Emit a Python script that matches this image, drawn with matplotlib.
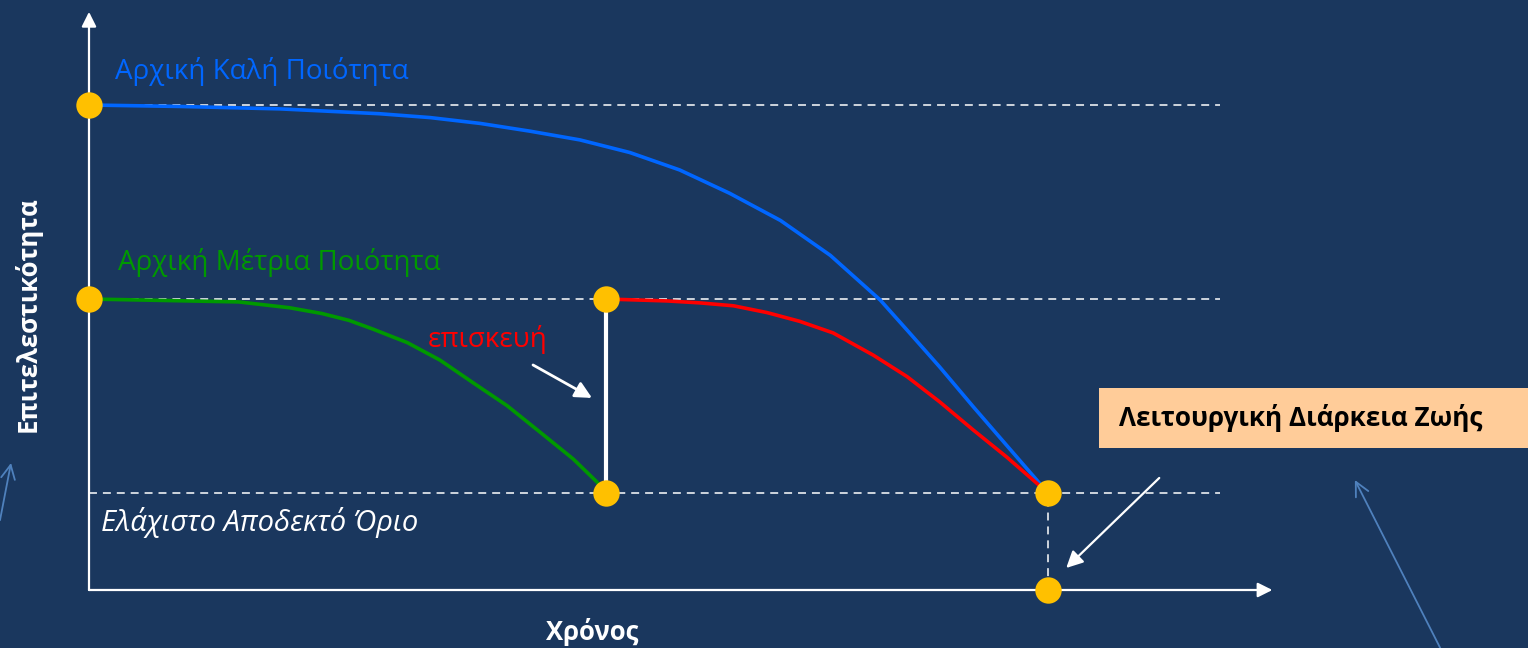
import matplotlib.pyplot as plt
from matplotlib.patches import Rectangle

# Time axis is scaled so that the end of useful life is at t = 10,
# effectiveness levels: minimum = 1, medium = 3, good = 5.
LEVEL_GOOD = 5.0
LEVEL_MEDIUM = 3.0
LEVEL_MIN = 1.0
T_REPAIR = 5.39
T_END = 10.0

good_t = [0.0, 0.95, 1.99, 3.03, 3.56, 4.08, 4.60, 5.12, 5.64, 6.16, 6.68, 7.21, 7.73,
          8.25, 8.53, 8.87, 9.22, 9.57, 10.0]
good_q = [5.0, 4.985, 4.96, 4.91, 4.87, 4.81, 4.73, 4.64, 4.51, 4.33, 4.09, 3.81, 3.45,
          2.99, 2.68, 2.30, 1.89, 1.49, 1.0]

medium_t = [0.0, 1.04, 1.56, 2.09, 2.43, 2.71, 2.96, 3.32, 3.66, 4.00, 4.36, 4.70, 5.05, 5.30, 5.39]
medium_q = [3.0, 2.98, 2.97, 2.91, 2.85, 2.78, 2.69, 2.55, 2.37, 2.14, 1.90, 1.63, 1.35, 1.11, 1.0]

repaired_t = [5.39, 6.03, 6.37, 6.72, 7.07, 7.41, 7.76, 8.18, 8.53, 8.87, 9.22, 9.57, 10.0]
repaired_q = [3.0, 2.98, 2.96, 2.93, 2.86, 2.77, 2.65, 2.42, 2.20, 1.94, 1.65, 1.37, 1.0]

dots_t = [0.0, 0.0, T_REPAIR, T_REPAIR, T_END, T_END]
dots_q = [LEVEL_GOOD, LEVEL_MEDIUM, LEVEL_MEDIUM, LEVEL_MIN, LEVEL_MIN, 0.0]

label_good = "Αρχική Καλή Ποιότητα"
label_medium = "Αρχική Μέτρια Ποιότητα"
label_repair = "επισκευή"
label_min = "Ελάχιστο Αποδεκτό Όριο"
label_life = "Λειτουργική Διάρκεια Ζωής"
xlabel = "Χρόνος"
ylabel = "Επιτελεστικότητα"

BG = "#1a375e"
plt.rcParams["font.family"] = ["Open Sans", "DejaVu Sans"]

fig = plt.figure(figsize=(15.28, 6.48), dpi=100, facecolor=BG)
ax = fig.add_axes([0, 0, 1, 1])
ax.set_facecolor(BG)
ax.set_xlim(-89 / 95.9, (1528 - 89) / 95.9)
ax.set_ylim(-(648 - 590) / 97, 590 / 97)
ax.axis("off")

# reference levels
dash = dict(color="white", lw=1.1, dashes=(5.2, 3.9), zorder=1)
for lvl in [LEVEL_GOOD, LEVEL_MEDIUM, LEVEL_MIN]:
    ax.plot([0, 11.79], [lvl, lvl], **dash)
ax.plot([T_END, T_END], [0, LEVEL_MIN], **dash)

# axes with arrows
ax.annotate("", xy=(12.34, 0), xytext=(0, 0),
            arrowprops=dict(arrowstyle="-|>", color="white", lw=1.6, mutation_scale=22, shrinkA=0, shrinkB=0))
ax.annotate("", xy=(0, 5.96), xytext=(0, 0),
            arrowprops=dict(arrowstyle="-|>", color="white", lw=1.6, mutation_scale=22, shrinkA=0, shrinkB=0))

# curves
curve = dict(lw=2.6, zorder=3, solid_capstyle="round", solid_joinstyle="round")
ax.plot(good_t, good_q, color="#0066ff", **curve)
ax.plot(medium_t, medium_q, color="#009900", **curve)
ax.plot(repaired_t, repaired_q, color="#ff0000", **curve)
ax.plot([T_REPAIR, T_REPAIR], [LEVEL_MIN, LEVEL_MEDIUM], color="white", lw=3, zorder=2)

ax.plot(dots_t, dots_q, "o", color="#ffc000", ms=19, mec="none", zorder=5, clip_on=False)

# labels
ax.text(0.27, 5.35, label_good, color="#0066ff", fontsize=20, va="center", ha="left")
ax.text(0.30, 3.38, label_medium, color="#009900", fontsize=20, va="center", ha="left")
ax.text(3.53, 2.58, label_repair, color="#ff0000", fontsize=20, va="center", ha="left")
ax.text(0.125, 0.70, label_min, color="white", fontsize=21, style="italic", va="center", ha="left")
ax.text(5.245, -0.433, xlabel, color="white", fontsize=18.5, fontweight="bold", va="center", ha="center")
ax.text(-0.636, 2.845, ylabel, color="white", fontsize=18.5, fontweight="bold", va="center", ha="center",
        rotation=90)

ax.annotate("", xy=(5.245, 1.98), xytext=(4.63, 2.32),
            arrowprops=dict(arrowstyle="-|>", color="white", lw=2, mutation_scale=25, shrinkA=0, shrinkB=0))

# life annotation box
ax.add_patch(Rectangle((10.53, 1.464), 15.1 - 10.53, 2.08 - 1.464, facecolor="#ffcc99",
                       edgecolor="none", zorder=4))
ax.text(10.74, 1.77, label_life, color="black", fontsize=18.8, fontweight="bold", va="center", ha="left",
        zorder=5)
ax.annotate("", xy=(10.19, 0.227), xytext=(11.16, 1.155),
            arrowprops=dict(arrowstyle="-|>", color="white", lw=1.6, mutation_scale=25, shrinkA=0, shrinkB=0))

# thin leftover pointer arrows
thin = dict(arrowstyle="->", color="#4f81bd", lw=1.3, mutation_scale=25, shrinkA=0, shrinkB=0)
ax.annotate("", xy=(13.2, 1.134), xytext=(14.09, -0.598), arrowprops=thin, annotation_clip=False)
ax.annotate("", xy=(-0.813, 1.31), xytext=(-0.928, 0.72), arrowprops=thin, annotation_clip=False)

fig.savefig("out.png", dpi=100, facecolor=BG)
